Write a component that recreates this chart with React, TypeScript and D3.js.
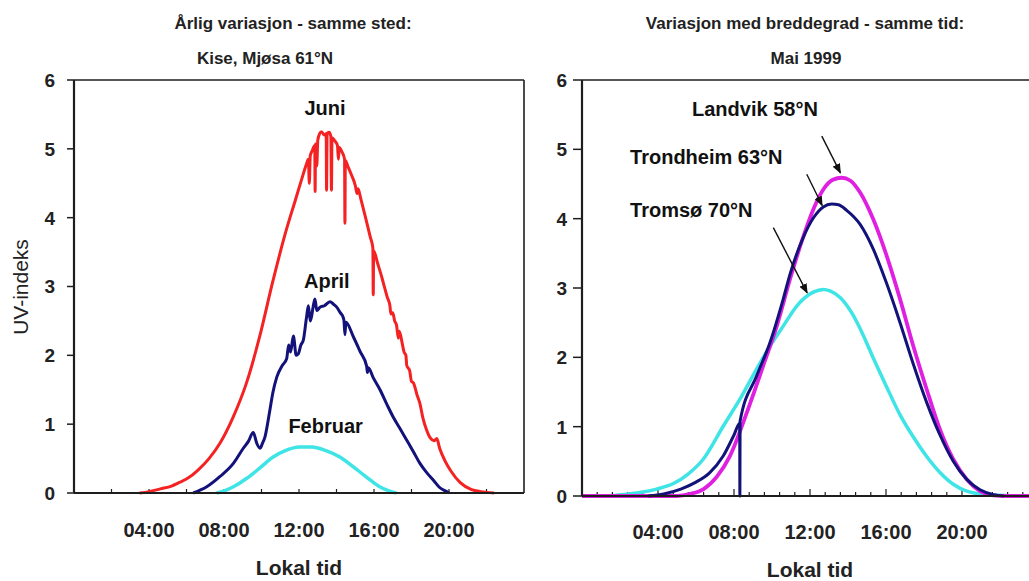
import React from 'react';
import * as d3 from 'd3';

type P = [number, number];

// ---------- data (hour of day, UV index) ----------
const juni: P[] = [
  [3.5, 0], [4.0, 0.02], [4.6, 0.06], [5.2, 0.1], [5.6, 0.15], [6.1, 0.22], [6.6, 0.33], [7.2, 0.5],
  [7.8, 0.73], [8.5, 1.11], [9.2, 1.6], [9.9, 2.27], [10.6, 3.07], [11.3, 3.8], [11.8, 4.25], [12.1, 4.52],
  [12.4, 4.78], [12.5, 4.85], [12.55, 4.5], [12.6, 4.9], [12.7, 4.97], [12.84, 5.05], [12.86, 4.38],
  [12.88, 5.07], [12.95, 4.75], [13.0, 5.12], [13.1, 5.22], [13.2, 5.25], [13.35, 5.2], [13.45, 5.22],
  [13.47, 4.4], [13.5, 5.22], [13.6, 5.24], [13.7, 5.18], [13.73, 4.4], [13.76, 5.16], [13.9, 5.12],
  [14.05, 5.05], [14.1, 4.85], [14.15, 5.02], [14.3, 4.95], [14.43, 4.85], [14.45, 3.92], [14.47, 4.83],
  [14.6, 4.75], [14.8, 4.62], [15.0, 4.47], [15.1, 4.35], [15.15, 4.42], [15.3, 4.27], [15.55, 4.0],
  [15.8, 3.72], [15.94, 3.56], [15.96, 2.88], [15.98, 3.52], [16.2, 3.33], [16.4, 3.15], [16.5, 3.05],
  [16.7, 2.85], [16.85, 2.72], [16.9, 2.6], [17.0, 2.62], [17.1, 2.5], [17.2, 2.44], [17.3, 2.25],
  [17.35, 2.35], [17.5, 2.18], [17.6, 2.05], [17.7, 2.0], [17.75, 1.85], [17.9, 1.78], [18.0, 1.62],
  [18.1, 1.6], [18.3, 1.42], [18.45, 1.3], [18.6, 1.1], [18.8, 0.92], [19.0, 0.8], [19.2, 0.76],
  [19.35, 0.79], [19.5, 0.65], [19.8, 0.46], [20.1, 0.32], [20.6, 0.15], [21.2, 0.05], [21.7, 0.02], [22.4, 0],
];

const april: P[] = [
  [6.36, 0], [7.08, 0.09], [7.79, 0.24], [8.5, 0.43], [9.03, 0.65], [9.3, 0.75], [9.56, 0.88], [9.75, 0.72],
  [9.92, 0.65], [10.05, 0.72], [10.19, 0.82], [10.45, 1.21], [10.6, 1.45], [10.81, 1.68], [11.1, 1.85],
  [11.34, 1.95], [11.45, 2.15], [11.55, 2.05], [11.7, 2.28], [11.85, 2.0], [11.96, 2.02], [12.1, 2.15],
  [12.23, 2.22], [12.4, 2.55], [12.5, 2.72], [12.6, 2.5], [12.68, 2.58], [12.75, 2.7], [12.85, 2.82],
  [12.95, 2.65], [13.12, 2.7], [13.35, 2.72], [13.65, 2.78], [13.85, 2.74], [14.01, 2.7], [14.2, 2.62],
  [14.36, 2.55], [14.4, 2.5], [14.45, 2.3], [14.5, 2.48], [14.9, 2.27], [15.25, 2.06], [15.61, 1.84],
  [15.65, 1.75], [15.7, 1.82], [15.95, 1.68], [16.32, 1.5], [16.7, 1.28], [17.03, 1.1], [17.4, 0.93],
  [17.74, 0.77], [18.1, 0.6], [18.45, 0.43], [18.8, 0.3], [19.16, 0.19], [19.5, 0.08], [19.88, 0.02], [20.0, 0],
];

const februar: P[] = [
  [7.6, 0], [8.0, 0.03], [8.5, 0.09], [9.2, 0.21], [9.9, 0.36], [10.6, 0.52], [11.3, 0.62], [12.0, 0.67],
  [12.7, 0.67], [13.4, 0.62], [14.2, 0.52], [14.9, 0.38], [15.6, 0.23], [16.3, 0.09], [16.8, 0.03], [17.2, 0],
];

const landvik: P[] = [
  [0, 0], [5.0, 0], [5.7, 0.03], [6.4, 0.1], [7.1, 0.28], [7.79, 0.58], [8.67, 1.2], [9.54, 1.88],
  [10.25, 2.45], [10.95, 3.13], [11.6, 3.7], [12.2, 4.15], [12.7, 4.42], [13.2, 4.56], [13.67, 4.59],
  [14.11, 4.55], [14.63, 4.38], [15.33, 3.99], [16.04, 3.46], [16.74, 2.84], [17.44, 2.16], [18.14, 1.54],
  [18.84, 0.96], [19.54, 0.53], [20.25, 0.24], [20.95, 0.07], [21.65, 0.01], [22.3, 0], [24, 0],
];

const trondheim: P[] = [
  [3.5, 0], [4.3, 0.03], [5.2, 0.1], [6.0, 0.2], [6.7, 0.33], [7.44, 0.58], [8.0, 0.88], [8.3, 1.05],
  [8.31, 0], [8.32, 1.08], [9.19, 1.73], [9.89, 2.21], [10.59, 2.84], [10.95, 3.2], [11.6, 3.7],
  [12.2, 4.02], [12.7, 4.17], [13.14, 4.21], [13.5, 4.2], [13.93, 4.12], [14.63, 3.92], [15.33, 3.56],
  [16.04, 3.06], [16.74, 2.5], [17.44, 1.9], [18.14, 1.35], [18.84, 0.88], [19.54, 0.5], [20.25, 0.24],
  [20.95, 0.09], [21.65, 0.02], [22.2, 0],
];

const tromso: P[] = [
  [1.5, 0], [2.2, 0.02], [3.05, 0.05], [3.93, 0.1], [4.81, 0.18], [5.6, 0.32], [6.38, 0.53], [7.44, 1.01],
  [8.32, 1.4], [9.19, 1.83], [9.89, 2.16], [10.59, 2.45], [11.3, 2.74], [12.17, 2.94], [12.7, 2.98],
  [13.05, 2.96], [13.6, 2.86], [14.2, 2.64], [14.8, 2.32], [15.33, 1.99], [16.04, 1.57], [16.74, 1.17],
  [17.44, 0.85], [18.14, 0.57], [18.84, 0.34], [19.54, 0.17], [20.25, 0.07], [21.3, 0.02], [22.7, 0],
];

const yTicks = [0, 1, 2, 3, 4, 5, 6];
const xTickHours = [4, 8, 12, 16, 20];
const xTickLabels = ['04:00', '08:00', '12:00', '16:00', '20:00'];

// annotation positions in data units (hour, UV)
const leftLabels: { text: string; h: number; v: number }[] = [
  { text: 'Juni', h: 13.39, v: 5.49 },
  { text: 'April', h: 13.48, v: 2.98 },
  { text: 'Februar', h: 13.42, v: 0.87 },
];
const rightLabels: { text: string; h: number; v: number }[] = [
  { text: 'Landvik 58°N', h: 5.79, v: 5.48 },
  { text: 'Trondheim 63°N', h: 2.53, v: 4.79 },
  { text: 'Tromsø 70°N', h: 2.53, v: 4.02 },
];
const arrows: { h0: number; v0: number; h1: number; v1: number }[] = [
  { h0: 12.62, v0: 5.19, h1: 13.6, v1: 4.66 },
  { h0: 11.83, v0: 4.64, h1: 12.64, v1: 4.19 },
  { h0: 10.07, v0: 3.87, h1: 11.85, v1: 2.93 },
];

const FONT = "'Liberation Sans', Arial, Helvetica, sans-serif";
const AXIS = '#1e1e1e';
const RED = '#f42222';
const NAVY = '#12127a';
const CYAN = '#3ee4e6';
const MAGENTA = '#e020e0';

export default function App() {
  const lx = d3.scaleLinear().domain([0, 24]).range([74, 524]);
  const ly = d3.scaleLinear().domain([0, 6]).range([493, 80]);
  const rx = d3.scaleLinear().domain([0, 24]).range([582, 1038]);
  const ry = d3.scaleLinear().domain([0, 6]).range([496, 80]);

  const lineL = d3.line<P>().x(d => lx(d[0])).y(d => ly(d[1])).curve(d3.curveMonotoneX);
  const lineR = d3.line<P>().x(d => rx(d[0])).y(d => ry(d[1])).curve(d3.curveMonotoneX);

  const leftMinor = d3.range(2, 24, 2);
  const rightMinor = d3.range(0, 24.01, 0.8);

  return (
    <svg width={1029} height={581} style={{ position: 'absolute', left: 0, top: 0, background: '#fff' }}
      fontFamily={FONT}>
      <defs>
        <marker id="ah" viewBox="0 0 10 8" refX="9" refY="4" markerWidth="10" markerHeight="8"
          markerUnits="userSpaceOnUse" orient="auto">
          <path d="M0,0 L10,4 L0,8 z" fill="#111" />
        </marker>
      </defs>
      <rect x={0} y={0} width={1029} height={581} fill="#fff" />

      {/* titles */}
      <text x={293} y={29} textAnchor="middle" fontSize={17} fontWeight="bold" fill="#222">Årlig variasjon - samme sted:</text>
      <text x={265} y={64} textAnchor="middle" fontSize={17} fontWeight="bold" fill="#222">Kise, Mjøsa 61°N</text>
      <text x={805} y={29} textAnchor="middle" fontSize={17} fontWeight="bold" fill="#222">Variasjon med breddegrad - samme tid:</text>
      <text x={806} y={64} textAnchor="middle" fontSize={17} fontWeight="bold" fill="#222">Mai 1999</text>

      {/* ===== left panel ===== */}
      <g>
        <line x1={lx(0)} x2={lx(24)} y1={ly(6)} y2={ly(6)} stroke={AXIS} strokeWidth={1.6} />
        <line x1={lx(24)} x2={lx(24)} y1={ly(6)} y2={ly(0)} stroke={AXIS} strokeWidth={1.6} />
        {leftMinor.map(h => (
          <line key={'lm' + h} x1={lx(h)} x2={lx(h)} y1={ly(0)} y2={ly(0) - 4} stroke={AXIS} strokeWidth={1.2} />
        ))}
        <path d={lineL(juni) || ''} fill="none" stroke={RED} strokeWidth={3} strokeLinejoin="round" />
        <path d={lineL(april) || ''} fill="none" stroke={NAVY} strokeWidth={3} strokeLinejoin="round" />
        <path d={lineL(februar) || ''} fill="none" stroke={CYAN} strokeWidth={3.5} strokeLinejoin="round" />
        <line x1={lx(0)} x2={lx(0)} y1={ly(6)} y2={ly(0)} stroke={AXIS} strokeWidth={2.2} />
        <line x1={lx(0)} x2={lx(24)} y1={ly(0)} y2={ly(0)} stroke={AXIS} strokeWidth={2.2} />
        {yTicks.map(t => (
          <g key={'ly' + t}>
            <line x1={lx(0) - 7} x2={lx(0)} y1={ly(t)} y2={ly(t)} stroke={AXIS} strokeWidth={1.5} />
            <text x={55} y={ly(t)} dy="0.36em" textAnchor="end" fontSize={19} fontWeight="bold" fill="#222">{t}</text>
          </g>
        ))}
        {xTickHours.map((h, i) => (
          <text key={'lx' + h} x={lx(h)} y={537} textAnchor="middle" fontSize={20} fontWeight="bold" fill="#222">{xTickLabels[i]}</text>
        ))}
        <text x={lx(12)} y={575} textAnchor="middle" fontSize={21} fontWeight="bold" fill="#222">Lokal tid</text>
        <text transform="translate(20,287) rotate(-90)" textAnchor="middle" dy="0.36em" fontSize={21} fill="#222">UV-indeks</text>
        {leftLabels.map(l => (
          <text key={l.text} x={lx(l.h)} y={ly(l.v)} textAnchor="middle" fontSize={20} fontWeight="bold" fill="#111">{l.text}</text>
        ))}
      </g>

      {/* ===== right panel ===== */}
      <g>
        <line x1={rx(0)} x2={rx(24)} y1={ry(6)} y2={ry(6)} stroke={AXIS} strokeWidth={1.6} />
        {rightMinor.map((h, i) => (
          <line key={'rm' + i} x1={rx(h)} x2={rx(h)} y1={ry(0)} y2={ry(0) - (i % 5 === 0 ? 7 : 4)} stroke={AXIS} strokeWidth={1.2} />
        ))}
        <path d={lineR(tromso) || ''} fill="none" stroke={CYAN} strokeWidth={3.5} strokeLinejoin="round" />
        <path d={lineR(landvik) || ''} fill="none" stroke={MAGENTA} strokeWidth={3.8} strokeLinejoin="round" />
        <path d={lineR(trondheim) || ''} fill="none" stroke={NAVY} strokeWidth={3} strokeLinejoin="round" />
        <line x1={rx(0)} x2={rx(0)} y1={ry(6)} y2={ry(0)} stroke={AXIS} strokeWidth={2.2} />
        <line x1={rx(0)} x2={rx(24)} y1={ry(0)} y2={ry(0)} stroke={AXIS} strokeWidth={2.2} />
        {yTicks.map(t => (
          <g key={'ry' + t}>
            <line x1={rx(0) - 9} x2={rx(0)} y1={ry(t)} y2={ry(t)} stroke={AXIS} strokeWidth={1.5} />
            <text x={567} y={ry(t)} dy="0.36em" textAnchor="end" fontSize={19} fontWeight="bold" fill="#222">{t}</text>
          </g>
        ))}
        {xTickHours.map((h, i) => (
          <text key={'rx' + h} x={rx(h)} y={539} textAnchor="middle" fontSize={20} fontWeight="bold" fill="#222">{xTickLabels[i]}</text>
        ))}
        <text x={rx(12)} y={577} textAnchor="middle" fontSize={21} fontWeight="bold" fill="#222">Lokal tid</text>
        {rightLabels.map(l => (
          <text key={l.text} x={rx(l.h)} y={ry(l.v)} textAnchor="start" fontSize={20} fontWeight="bold" fill="#111">{l.text}</text>
        ))}
        {arrows.map((a, i) => (
          <line key={'ar' + i} x1={rx(a.h0)} y1={ry(a.v0)} x2={rx(a.h1)} y2={ry(a.v1)} stroke="#111" strokeWidth={1.4}
            markerEnd="url(#ah)" />
        ))}
      </g>
    </svg>
  );
}
